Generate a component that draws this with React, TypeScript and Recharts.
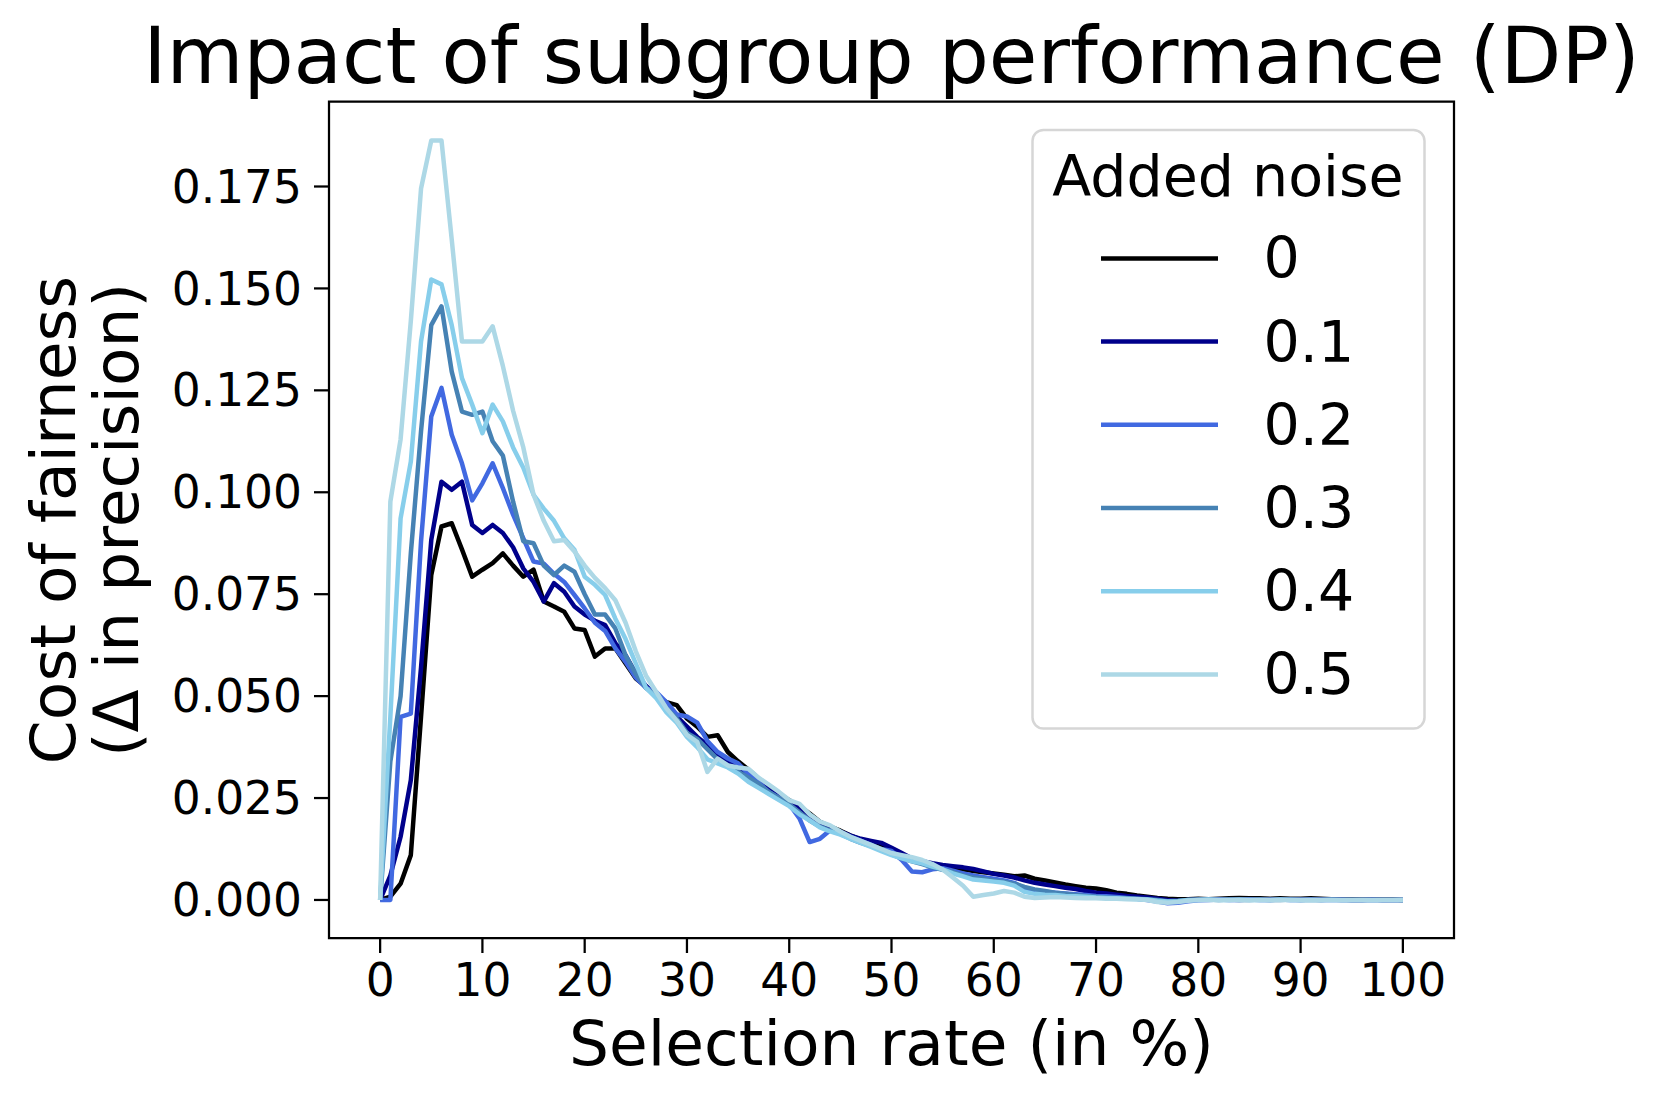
import React from "react";
import { LineChart, Line, XAxis, YAxis, ReferenceArea } from "recharts";

// Selection rate (in %) 0..100
const X_VALUES = Array.from({ length: 101 }, (_, i) => i);
const X_TICKS = [0, 10, 20, 30, 40, 50, 60, 70, 80, 90, 100];
const Y_TICKS = [0, 0.025, 0.05, 0.075, 0.1, 0.125, 0.15, 0.175];

const NOISE_0 = [
  0, 0.0008, 0.004, 0.011, 0.045, 0.0797, 0.0916, 0.0924, 0.086, 0.0793,
  0.081, 0.0826, 0.085, 0.082, 0.0793, 0.081, 0.0732, 0.072, 0.0707, 0.0666,
  0.0662, 0.0597, 0.0617, 0.0617, 0.058, 0.0543, 0.0523, 0.05, 0.0485, 0.0478,
  0.0445, 0.0425, 0.04, 0.0404, 0.0363, 0.034, 0.032, 0.0298, 0.0278, 0.026,
  0.0245, 0.023, 0.0212, 0.0192, 0.018, 0.017, 0.0158, 0.0148, 0.0138, 0.013,
  0.012, 0.0108, 0.0098, 0.0092, 0.0086, 0.0082, 0.0078, 0.0075, 0.0071, 0.0068,
  0.0065, 0.0062, 0.0058, 0.006, 0.0052, 0.0048, 0.0043, 0.0038, 0.0034, 0.003,
  0.0028, 0.0024, 0.0018, 0.0015, 0.0011, 0.0008, 0.0005, 0.0003, 0.0002, 0.0002,
  0.0003, 0.0002, 0.0003, 0.0004, 0.0005, 0.0004, 0.0004, 0.0003, 0.0004, 0.0003,
  0.0003, 0.0004, 0.0003, 0.0002, 0.0002, 0.0002, 0.0001, 0.0001, 0.0001, 0.0001,
  0,
];

const NOISE_01 = [
  0, 0.006, 0.0155, 0.0294, 0.057, 0.0883, 0.1026, 0.1006, 0.1026, 0.092,
  0.09, 0.092, 0.09, 0.0865, 0.0813, 0.078, 0.0732, 0.0777, 0.0756, 0.072,
  0.07, 0.0685, 0.0674, 0.063, 0.06, 0.0555, 0.0525, 0.05, 0.047, 0.045,
  0.0425, 0.04, 0.038, 0.0355, 0.034, 0.0325, 0.031, 0.029, 0.027, 0.0255,
  0.024, 0.0225, 0.0208, 0.019, 0.0178, 0.0168, 0.0158, 0.015, 0.0145, 0.014,
  0.0128, 0.0115, 0.0102, 0.0095, 0.009, 0.0086, 0.0083, 0.008, 0.0076, 0.007,
  0.0064, 0.006, 0.0055, 0.0048, 0.0042, 0.0038, 0.0034, 0.003, 0.0027, 0.0022,
  0.0018, 0.0016, 0.0013, 0.001, 0.0008, 0.0006, 0.0003, 0.0, -0.0002, 0.0,
  0.0001, 0.0001, 0.0002, 0.0001, 0.0001, 0.0002, 0.0001, 0.0001, 0.0001, 0.0002,
  0.0001, 0.0001, 0.0001, 0.0001, 0.0001, 0.0, 0.0, 0.0001, 0.0, 0.0,
  0,
];

const NOISE_02 = [
  0, 0, 0.0449, 0.0457, 0.088, 0.1186, 0.1256, 0.1141, 0.1071, 0.098,
  0.1022, 0.1071, 0.101, 0.0945, 0.0887, 0.083, 0.0825, 0.08, 0.078, 0.0748,
  0.0715, 0.068, 0.066, 0.0617, 0.0584, 0.0545, 0.052, 0.051, 0.0485, 0.0455,
  0.045, 0.0435, 0.039, 0.0363, 0.0347, 0.0335, 0.031, 0.0288, 0.0265, 0.025,
  0.0235, 0.02, 0.0142, 0.015, 0.0171, 0.0165, 0.0155, 0.0145, 0.0135, 0.0125,
  0.012, 0.0098, 0.007, 0.0068, 0.0075, 0.0078, 0.0072, 0.0065, 0.006, 0.0056,
  0.0052, 0.0048, 0.0042, 0.0028, 0.0022, 0.002, 0.0018, 0.0016, 0.0014, 0.0012,
  0.001, 0.0009, 0.0007, 0.0005, 0.0003, 0.0, -0.0004, -0.0008, -0.0007, -0.0003,
  -0.0001, 0.0, 0.0001, 0.0, 0.0, 0.0001, 0.0, 0.0, 0.0001, 0.0,
  0.0, 0.0001, 0.0, 0.0, 0.0, 0.0, 0.0, 0.0, 0.0, 0.0,
  0,
];

const NOISE_03 = [
  0, 0.034, 0.05, 0.085, 0.115, 0.141, 0.1456, 0.1296, 0.1198, 0.119,
  0.1198, 0.1125, 0.109, 0.0977, 0.088, 0.0875, 0.082, 0.0797, 0.082, 0.0805,
  0.075, 0.07, 0.07, 0.0666, 0.06, 0.0555, 0.052, 0.05, 0.047, 0.0445,
  0.041, 0.0395, 0.037, 0.0345, 0.033, 0.0315, 0.03, 0.0285, 0.0265, 0.025,
  0.0235, 0.0215, 0.0195, 0.018, 0.017, 0.0162, 0.015, 0.014, 0.0132, 0.0122,
  0.0112, 0.0102, 0.0095, 0.0088, 0.008, 0.0074, 0.0068, 0.006, 0.0055, 0.0052,
  0.0048, 0.0045, 0.004, 0.0032, 0.0026, 0.0022, 0.0018, 0.0015, 0.0012, 0.001,
  0.0008, 0.0006, 0.0005, 0.0004, 0.0003, 0.0002, 0.0, -0.0003, -0.0002, 0.0,
  0.0001, 0.0001, 0.0, 0.0001, 0.0, 0.0, 0.0001, 0.0, 0.0, 0.0001,
  0.0, 0.0, 0.0, 0.0001, 0.0, 0.0, 0.0, 0.0, 0.0, 0.0,
  0,
];

const NOISE_04 = [
  0, 0.045, 0.0936, 0.1075, 0.137, 0.1522, 0.151, 0.141, 0.128, 0.1215,
  0.1145, 0.1215, 0.1174, 0.111, 0.106, 0.0994, 0.096, 0.093, 0.0887, 0.0859,
  0.0793, 0.0773, 0.0748, 0.069, 0.064, 0.058, 0.052, 0.0495, 0.046, 0.0435,
  0.04, 0.0375, 0.0345, 0.0335, 0.0325, 0.031, 0.029, 0.0275, 0.026, 0.0245,
  0.023, 0.021, 0.0195, 0.0178, 0.0168, 0.016, 0.015, 0.014, 0.013, 0.012,
  0.011, 0.0102, 0.0095, 0.009, 0.0082, 0.0075, 0.0065, 0.0058, 0.005, 0.0048,
  0.0045, 0.0042, 0.0035, 0.002, 0.0015, 0.0013, 0.0012, 0.001, 0.0009, 0.0008,
  0.0006, 0.0005, 0.0004, 0.0003, 0.0002, 0.0001, -0.0002, -0.0004, -0.0003, 0.0,
  0.0, 0.0001, 0.0, 0.0, 0.0001, 0.0, 0.0, 0.0, 0.0001, 0.0,
  0.0, 0.0, 0.0, 0.0, 0.0, 0.0, 0.0, 0.0, 0.0, 0.0,
  0,
];

const NOISE_05 = [
  0, 0.0977, 0.113, 0.142, 0.1745, 0.1863, 0.1863, 0.162, 0.137, 0.137,
  0.137, 0.1407, 0.131, 0.12, 0.111, 0.0994, 0.093, 0.088, 0.0883, 0.0855,
  0.082, 0.079, 0.0765, 0.0735, 0.068, 0.061, 0.055, 0.051, 0.047, 0.044,
  0.0405, 0.0388, 0.0314, 0.0347, 0.033, 0.0325, 0.0322, 0.03, 0.0283, 0.0265,
  0.0245, 0.0236, 0.021, 0.0192, 0.0183, 0.0168, 0.0155, 0.0145, 0.0135, 0.0125,
  0.0115, 0.011, 0.0105, 0.0098, 0.0088, 0.0075, 0.0055, 0.0035, 0.0008, 0.0012,
  0.0016, 0.0022, 0.0018, 0.0008, 0.0005, 0.0006, 0.0007, 0.0006, 0.0005, 0.0004,
  0.0004, 0.0003, 0.0003, 0.0002, 0.0002, 0.0, -0.0005, -0.0007, -0.0005, -0.0002,
  0.0, 0.0, 0.0, 0.0, 0.0, 0.0, 0.0, 0.0, 0.0, 0.0,
  0.0, 0.0, 0.0, 0.0, 0.0, 0.0, 0.0, 0.0, 0.0, 0.0,
  0,
];

const SERIES_NAMES = ["0", "0.1", "0.2", "0.3", "0.4", "0.5"];
const SERIES_VALUES = [NOISE_0, NOISE_01, NOISE_02, NOISE_03, NOISE_04, NOISE_05];
const SERIES_COLORS = ["#000000", "#00008b", "#4169e1", "#4682b4", "#87ceeb", "#add8e6"];

const X_DOMAIN: [number, number] = [-5, 105];
const Y_DOMAIN: [number, number] = [-0.00933, 0.1958];

const FONT = "'DejaVu Sans', sans-serif";

const rows = X_VALUES.map((x, i) => {
  const row: Record<string, number> = { x };
  SERIES_VALUES.forEach((s, k) => {
    row["s" + k] = s[i];
  });
  return row;
});

export default function App() {
  const W = 1662;
  const H = 1104;
  return (
    <div style={{ position: "absolute", left: 0, top: 0, width: W, height: H, background: "#fff", fontFamily: FONT }}>
      <LineChart
        width={W}
        height={H}
        data={rows}
        margin={{ top: 101.7, right: 208, bottom: 106, left: 0 }}
      >
        <XAxis
          dataKey="x"
          type="number"
          domain={X_DOMAIN}
          ticks={X_TICKS}
          allowDataOverflow
          height={60}
          axisLine={false}
          tickSize={15}
          tickMargin={11}
          tickLine={{ stroke: "#000", strokeWidth: 2.25 }}
          tick={{ fill: "#000", fontSize: 45.5, fontFamily: FONT }}
          interval={0}
        />
        <YAxis
          type="number"
          domain={Y_DOMAIN}
          ticks={Y_TICKS}
          allowDataOverflow
          width={329}
          axisLine={false}
          tickSize={15}
          tickMargin={12}
          tickLine={{ stroke: "#000", strokeWidth: 2.25 }}
          tick={{ fill: "#000", fontSize: 45.5, fontFamily: FONT }}
          tickFormatter={(v: number) => v.toFixed(3)}
          interval={0}
        />
        {SERIES_NAMES.map((name, k) => (
          <Line
            key={name}
            name={name}
            dataKey={"s" + k}
            type="linear"
            stroke={SERIES_COLORS[k]}
            strokeWidth={4.5}
            strokeLinejoin="round"
            dot={false}
            activeDot={false}
            isAnimationActive={false}
          />
        ))}
        <ReferenceArea
          x1={X_DOMAIN[0]}
          x2={X_DOMAIN[1]}
          y1={Y_DOMAIN[0]}
          y2={Y_DOMAIN[1]}
          fill="none"
          fillOpacity={0}
          stroke="#000"
          strokeWidth={2.25}
          ifOverflow="extendDomain"
        />
      </LineChart>
      <svg
        width={W}
        height={H}
        style={{ position: "absolute", left: 0, top: 0, pointerEvents: "none" }}
      >
        <text x={891.5} y={83} textAnchor="middle" fontSize={79} fontFamily={FONT} fill="#000">
          Impact of subgroup performance (DP)
        </text>
        <text x={891.5} y={1065} textAnchor="middle" fontSize={63} fontFamily={FONT} fill="#000">
          Selection rate (in %)
        </text>
        <text transform="translate(75,520) rotate(-90)" textAnchor="middle" fontSize={63} fontFamily={FONT} fill="#000">
          Cost of fairness
        </text>
        <text transform="translate(138,520) rotate(-90)" textAnchor="middle" fontSize={63} fontFamily={FONT} fill="#000">
          (Δ in precision)
        </text>
        <rect x={1032.5} y={130} width={392} height={598.6} rx={11} ry={11} fill="#fff" fillOpacity={0.8} stroke="#d6d6d6" strokeWidth={2.5} />
        <text x={1228} y={196} textAnchor="middle" fontSize={57} fontFamily={FONT} fill="#000">
          Added noise
        </text>
        {SERIES_NAMES.map((name, k) => {
          const cy = 258.4 + k * 83.2;
          return (
            <g key={name}>
              <line x1={1101} x2={1218} y1={cy} y2={cy} stroke={SERIES_COLORS[k]} strokeWidth={4.5} />
              <text x={1263.5} y={cy + 20} fontSize={57} fontFamily={FONT} fill="#000">
                {name}
              </text>
            </g>
          );
        })}
      </svg>
    </div>
  );
}
